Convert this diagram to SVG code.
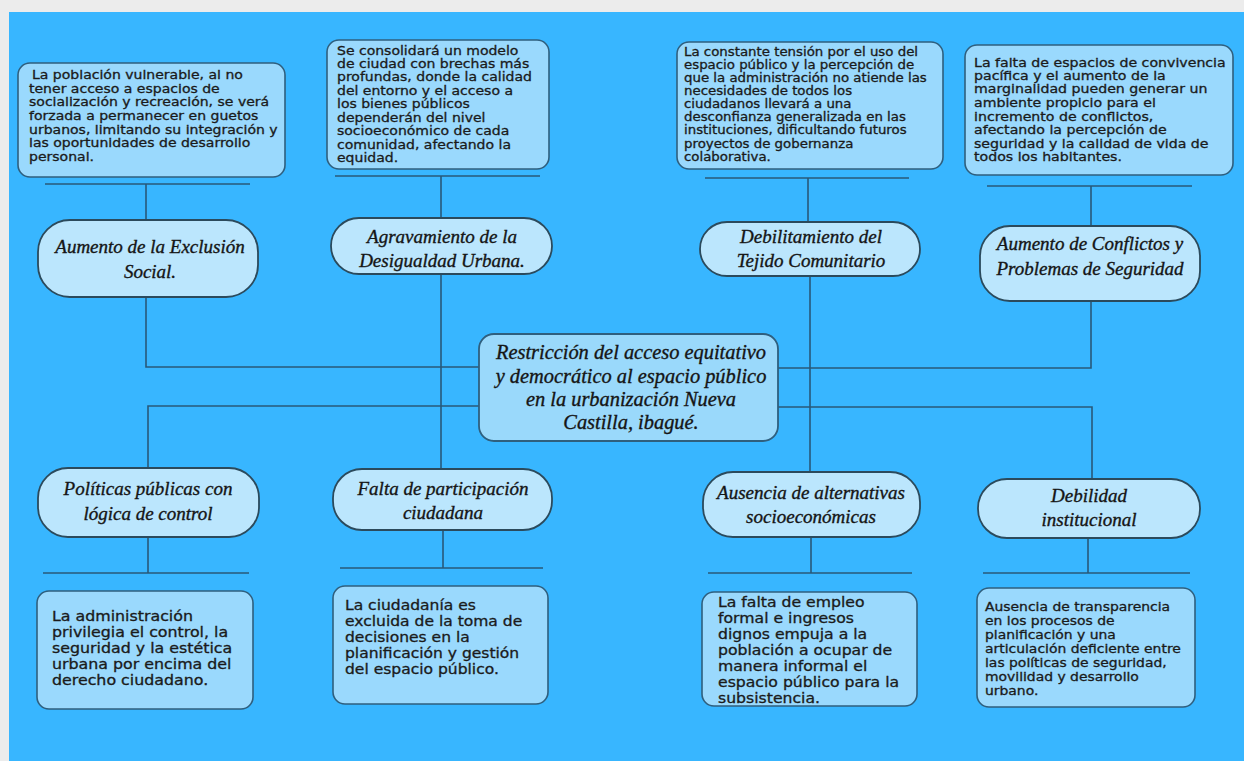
<svg xmlns="http://www.w3.org/2000/svg" width="1244" height="761" viewBox="0 0 1244 761">
<style>
.box{fill:#9ad9fd;stroke:#2f5f7e;stroke-width:1.6}
.pill{fill:#bbe6fd;stroke:#2b4a5c;stroke-width:1.8}
.ctr{fill:#9ad9fb;stroke:#2f5f7e;stroke-width:1.8}
.t{font-family:"DejaVu Sans",sans-serif;fill:#1b1b1b;stroke:#1b1b1b;stroke-width:0.3}
.p{font-family:"Liberation Serif",serif;font-style:italic;fill:#151515;stroke:#151515;stroke-width:0.35;text-anchor:middle}
#connectors path{fill:none;stroke:#28597a;stroke-width:1.6}
</style>
<rect x="0" y="0" width="1244" height="761" fill="#ececec"/>
<rect x="9" y="12" width="1235" height="749" fill="#38b6ff"/>
<g id="connectors">
<path d="M45 184H250M146 184V220"/>
<path d="M335 176H540M441 176V218"/>
<path d="M705 178H909M808 178V222"/>
<path d="M987 186H1192M1091 186V226"/>
<path d="M146 297V367H479"/>
<path d="M441 274V469"/>
<path d="M810 276V472"/>
<path d="M778 368H1091V302"/>
<path d="M148 468V406H479"/>
<path d="M778 407H1092V479"/>
<path d="M148 537V573M43 573H249"/>
<path d="M443 530V568M340 568H543"/>
<path d="M811 537V573M708 573H912"/>
<path d="M1088 538V573M983 573H1190"/>
</g>
<g id="top1"><rect class="box" x="18" y="63" width="267" height="114" rx="12"/>
<text class="t" font-size="11.6" transform="translate(29 0) scale(1.21 1)"><tspan x="2.5" y="79">La población vulnerable, al no</tspan><tspan x="0" y="93">tener acceso a espacios de</tspan><tspan x="0" y="106">socialización y recreación, se verá</tspan><tspan x="0" y="120">forzada a permanecer en guetos</tspan><tspan x="0" y="134">urbanos, limitando su integración y</tspan><tspan x="0" y="147">las oportunidades de desarrollo</tspan><tspan x="0" y="161">personal.</tspan></text></g>
<g id="top2"><rect class="box" x="327" y="40" width="222" height="129" rx="12"/>
<text class="t" font-size="12.2" transform="translate(337 0) scale(1.15 1)"><tspan x="0" y="55">Se consolidará un modelo</tspan><tspan x="0" y="68">de ciudad con brechas más</tspan><tspan x="0" y="81">profundas, donde la calidad</tspan><tspan x="0" y="95">del entorno y el acceso a</tspan><tspan x="0" y="108">los bienes públicos</tspan><tspan x="0" y="122">dependerán del nivel</tspan><tspan x="0" y="135">socioeconómico de cada</tspan><tspan x="0" y="149">comunidad, afectando la</tspan><tspan x="0" y="162">equidad.</tspan></text></g>
<g id="top3"><rect class="box" x="677" y="42" width="266" height="127" rx="12"/>
<text class="t" font-size="11.4" transform="translate(684 0) scale(1.17 1)"><tspan x="0" y="56">La constante tensión por el uso del</tspan><tspan x="0" y="69">espacio público y la percepción de</tspan><tspan x="0" y="82">que la administración no atiende las</tspan><tspan x="0" y="95">necesidades de todos los</tspan><tspan x="0" y="108">ciudadanos llevará a una</tspan><tspan x="0" y="121">desconfianza generalizada en las</tspan><tspan x="0" y="134">instituciones, dificultando futuros</tspan><tspan x="0" y="148">proyectos de gobernanza</tspan><tspan x="0" y="161">colaborativa.</tspan></text></g>
<g id="top4"><rect class="box" x="965" y="45" width="268" height="130" rx="12"/>
<text class="t" font-size="12" transform="translate(974 0) scale(1.18 1)"><tspan x="0" y="67">La falta de espacios de convivencia</tspan><tspan x="0" y="80">pacífica y el aumento de la</tspan><tspan x="0" y="93">marginalidad pueden generar un</tspan><tspan x="0" y="107">ambiente propicio para el</tspan><tspan x="0" y="121">incremento de conflictos,</tspan><tspan x="0" y="134">afectando la percepción de</tspan><tspan x="0" y="148">seguridad y la calidad de vida de</tspan><tspan x="0" y="161">todos los habitantes.</tspan></text></g>
<g id="n1"><rect class="pill" x="38" y="220" width="220" height="77" rx="32"/>
<text class="p" font-size="19"><tspan x="150" y="253">Aumento de la Exclusión</tspan><tspan x="150" y="278">Social.</tspan></text></g>
<g id="n2"><rect class="pill" x="331" y="218" width="221" height="56" rx="28"/>
<text class="p" font-size="19"><tspan x="442" y="243">Agravamiento de la</tspan><tspan x="442" y="267">Desigualdad Urbana.</tspan></text></g>
<g id="n3"><rect class="pill" x="700" y="222" width="220" height="54" rx="27"/>
<text class="p" font-size="19"><tspan x="811" y="243">Debilitamiento del</tspan><tspan x="811" y="267">Tejido Comunitario</tspan></text></g>
<g id="n4"><rect class="pill" x="980" y="226" width="220" height="75" rx="30"/>
<text class="p" font-size="19"><tspan x="1090" y="250">Aumento de Conflictos y</tspan><tspan x="1090" y="275">Problemas de Seguridad</tspan></text></g>
<g id="center"><rect class="ctr" x="479" y="334" width="299" height="107" rx="15"/>
<text class="p" font-size="20.4"><tspan x="631" y="359">Restricción del acceso equitativo</tspan><tspan x="631" y="383">y democrático al espacio público</tspan><tspan x="631" y="406">en la urbanización Nueva</tspan><tspan x="631" y="429">Castilla, ibagué.</tspan></text></g>
<g id="n5"><rect class="pill" x="38" y="468" width="221" height="69" rx="30"/>
<text class="p" font-size="19"><tspan x="148" y="495">Políticas públicas con</tspan><tspan x="148" y="520">lógica de control</tspan></text></g>
<g id="n6"><rect class="pill" x="333" y="469" width="219" height="61" rx="29"/>
<text class="p" font-size="19"><tspan x="443" y="495">Falta de participación</tspan><tspan x="443" y="519">ciudadana</tspan></text></g>
<g id="n7"><rect class="pill" x="703" y="472" width="217" height="65" rx="30"/>
<text class="p" font-size="19"><tspan x="811" y="499">Ausencia de alternativas</tspan><tspan x="811" y="523">socioeconómicas</tspan></text></g>
<g id="n8"><rect class="pill" x="978" y="479" width="222" height="59" rx="29"/>
<text class="p" font-size="19"><tspan x="1089" y="502">Debilidad</tspan><tspan x="1089" y="526">institucional</tspan></text></g>
<g id="bot1"><rect class="box" x="37" y="591" width="216" height="118" rx="12"/>
<text class="t" font-size="13.2" transform="translate(52 0) scale(1.2 1)"><tspan x="0" y="621">La administración</tspan><tspan x="0" y="637">privilegia el control, la</tspan><tspan x="0" y="653">seguridad y la estética</tspan><tspan x="0" y="669">urbana por encima del</tspan><tspan x="0" y="685">derecho ciudadano.</tspan></text></g>
<g id="bot2"><rect class="box" x="333" y="586" width="215" height="118" rx="12"/>
<text class="t" font-size="13.4" transform="translate(345 0) scale(1.16 1)"><tspan x="0" y="610">La ciudadanía es</tspan><tspan x="0" y="626">excluida de la toma de</tspan><tspan x="0" y="642">decisiones en la</tspan><tspan x="0" y="658">planificación y gestión</tspan><tspan x="0" y="674">del espacio público.</tspan></text></g>
<g id="bot3"><rect class="box" x="702" y="592" width="215" height="114" rx="12"/>
<text class="t" font-size="13.4" transform="translate(718 0) scale(1.17 1)"><tspan x="0" y="607">La falta de empleo</tspan><tspan x="0" y="623">formal e ingresos</tspan><tspan x="0" y="639">dignos empuja a la</tspan><tspan x="0" y="655">población a ocupar de</tspan><tspan x="0" y="671">manera informal el</tspan><tspan x="0" y="687">espacio público para la</tspan><tspan x="0" y="703">subsistencia.</tspan></text></g>
<g id="bot4"><rect class="box" x="977" y="588" width="218" height="119" rx="12"/>
<text class="t" font-size="11.6" transform="translate(985 0) scale(1.2 1)"><tspan x="0" y="611">Ausencia de transparencia</tspan><tspan x="0" y="625">en los procesos de</tspan><tspan x="0" y="639">planificación y una</tspan><tspan x="0" y="653">articulación deficiente entre</tspan><tspan x="0" y="667">las políticas de seguridad,</tspan><tspan x="0" y="681">movilidad y desarrollo</tspan><tspan x="0" y="695">urbano.</tspan></text></g>
</svg>
